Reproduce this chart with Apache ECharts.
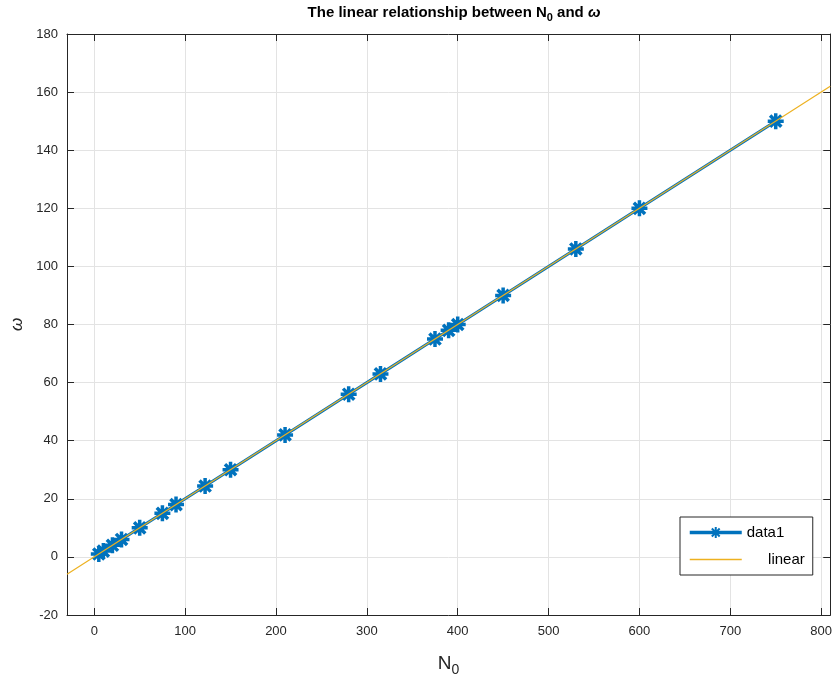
<!DOCTYPE html>
<html><head><meta charset="utf-8">
<script src="https://cdn.jsdelivr.net/npm/echarts@6/dist/echarts.min.js"></script>
<style>html,body{margin:0;padding:0;background:#fff}#c{width:835px;height:690px}</style>
</head><body><div id="c"></div>
<script>
// data
const n0    = [5, 10, 20, 30, 50, 75, 90, 122, 150, 210, 280, 315, 375, 390, 400, 450, 530, 600, 750];
const omega = [1, 2, 4, 6, 10, 15, 18, 24.4, 30, 42, 56, 63, 75, 78, 80, 90, 106, 120, 150];
const fitX  = [-30, 810];
const fitY  = [-6, 162];
const xTicks = [0, 100, 200, 300, 400, 500, 600, 700, 800];
const yTicks = [-20, 0, 20, 40, 60, 80, 100, 120, 140, 160, 180];

const FONT = '"Liberation Sans", Arial, Helvetica, sans-serif';
const AX = '#262626';
const GRID = '#e3e3e3';
const asterisk = 'path://M10,0L10,20M0,10L20,10M3,3L17,17M3,17L17,3';

const chart = echarts.init(document.getElementById('c'), null, {renderer: 'canvas'});

function xAxisBase(pos, labels) {
  return {
    type: 'value', position: pos, min: -30, max: 810,
    axisLine: {show: true, onZero: false, lineStyle: {color: AX, width: 1}},
    axisTick: {show: true, inside: true, length: 7, customValues: xTicks, lineStyle: {color: AX}},
    axisLabel: {show: labels, customValues: xTicks, color: AX, fontSize: 13, fontFamily: FONT, margin: 10},
    splitLine: {show: labels, lineStyle: {color: GRID, width: 1}}
  };
}
function yAxisBase(pos, labels) {
  return {
    type: 'value', position: pos, min: yTicks[0], max: yTicks[yTicks.length - 1], interval: 20,
    axisLine: {show: true, onZero: false, lineStyle: {color: AX, width: 1}},
    axisTick: {show: true, inside: true, length: 7, lineStyle: {color: AX}},
    axisLabel: {show: labels, color: AX, fontSize: 13, fontFamily: FONT, margin: 9},
    splitLine: {show: labels, lineStyle: {color: GRID, width: 1}}
  };
}

const xMain = xAxisBase('bottom', true);
xMain.name = '{n|N}{s|0}';
xMain.nameLocation = 'middle';
xMain.nameGap = 36;
xMain.nameTextStyle = {rich: {
  n: {fontSize: 19, fontFamily: FONT, color: AX},
  s: {fontSize: 14, fontFamily: FONT, color: AX, padding: [12, 0, 0, 0]}
}};
const xTop = xAxisBase('top', false);

const yMain = yAxisBase('left', true);
yMain.name = 'ω';
yMain.nameLocation = 'middle';
yMain.nameGap = 34;
yMain.nameTextStyle = {fontSize: 17, fontFamily: FONT, color: AX, fontStyle: 'italic'};
const yRight = yAxisBase('right', false);

chart.setOption({
  animation: false,
  backgroundColor: '#ffffff',
  title: {
    text: '{b|The linear relationship between N}{s|0}{b| and }{w|ω}',
    left: 449, top: -3, textAlign: 'center',
    textStyle: {rich: {
      b: {fontSize: 15, fontWeight: 'bold', fontFamily: FONT, color: '#000'},
      s: {fontSize: 11, fontWeight: 'bold', fontFamily: FONT, color: '#000', padding: [10, 0, 0, 0]},
      w: {fontSize: 15, fontStyle: 'italic', fontFamily: FONT, color: '#000'}
    }}
  },
  grid: {left: 67, right: 4, top: 34, bottom: 75, containLabel: false},
  xAxis: [xMain, xTop],
  yAxis: [yMain, yRight],
  legend: {
    orient: 'vertical', left: 680, top: 517,
    backgroundColor: '#fff', borderColor: AX, borderWidth: 1,
    padding: [8, 8, 8, 8], itemGap: 12, itemWidth: 52, itemHeight: 14,
    textStyle: {fontSize: 15, fontFamily: FONT, color: '#000',
      rich: {r: {fontSize: 15, fontFamily: FONT, color: '#000', width: 58, align: 'right'},
             l: {fontSize: 15, fontFamily: FONT, color: '#000', width: 58, align: 'left'}}},
    formatter: name => name === 'linear' ? '{r|linear}' : '{l|data1}',
    data: [{name: 'data1', lineStyle: {color: '#0072BD', width: 3.5}},
           {name: 'linear', itemStyle: {opacity: 0}, lineStyle: {color: '#EDB120', width: 1.6, opacity: 1}}]
  },
  series: [
    {
      name: 'data1', type: 'line', xAxisIndex: 0, yAxisIndex: 0,
      data: n0.map((v, i) => [v, omega[i]]),
      symbol: asterisk, symbolSize: 16, showAllSymbol: true,
      lineStyle: {color: '#0072BD', width: 3},
      itemStyle: {color: '#0072BD', borderColor: '#0072BD', borderWidth: 3.5},
      z: 3
    },
    {
      name: 'linear', type: 'line', xAxisIndex: 0, yAxisIndex: 0,
      data: fitX.map((v, i) => [v, fitY[i]]),
      symbol: 'none', showSymbol: false,
      lineStyle: {color: '#EDB120', width: 1.2},
      itemStyle: {color: '#EDB120'},
      z: 4
    }
  ]
});
</script></body></html>
